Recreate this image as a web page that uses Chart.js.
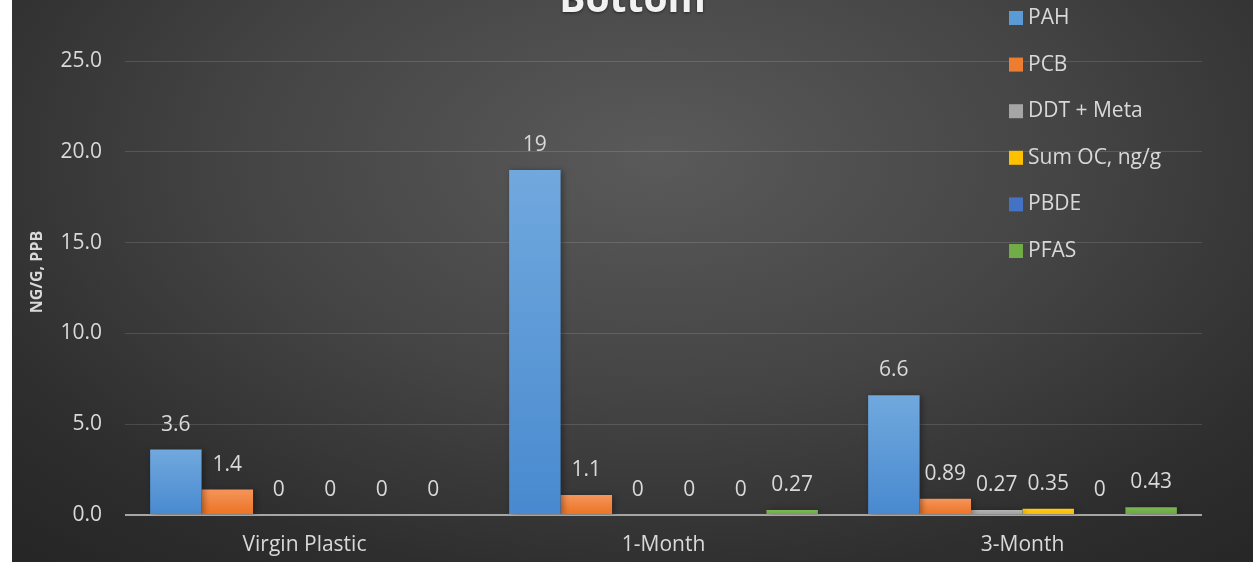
<!DOCTYPE html>
<html>
<head>
<meta charset="utf-8">
<script src="https://cdn.jsdelivr.net/npm/chart.js@4"></script>
<style>
  html, body { margin: 0; padding: 0; background: #ffffff; width: 1253px; height: 562px; overflow: hidden; }
  #wrap {
    position: absolute; left: 12px; top: 0; width: 1241px; height: 562px;
    background: radial-gradient(ellipse 75% 95% at 52% 28%, #5a5a5a 0%, #444444 45%, #2e2e2e 80%, #262626 100%);
  }
</style>
</head>
<body>
<div id="wrap"><canvas id="chart" width="1241" height="562"></canvas></div>
<script>
// chart data
const categories = ["Virgin Plastic", "1-Month", "3-Month"];
const seriesNames = ["PAH", "PCB", "DDT + Meta", "Sum OC, ng/g", "PBDE", "PFAS"];
const pah = [3.6, 19, 6.6];
const pcb = [1.4, 1.1, 0.89];
const ddtMeta = [0, 0, 0.27];
const sumOC = [0, 0, 0.35];
const pbde = [0, 0, 0];
const pfas = [0, 0.27, 0.43];
const yTicks = [0, 5, 10, 15, 20, 25];

// [top, bottom] colours of each bar gradient
const colours = [
  ["#71a9de", "#4889cf"],
  ["#f5955a", "#ec7222"],
  ["#b3b3b3", "#9c9c9c"],
  ["#ffca1a", "#f9bb00"],
  ["#5080d0", "#3e69b8"],
  ["#7cb854", "#68a640"],
];
const legendColours = ["#5b9bd5", "#ed7d31", "#a5a5a5", "#ffc000", "#4472c4", "#70ad47"];

const txt = "#d9d9d9";
const fs = 21;
Chart.defaults.font.family = "'Open Sans', sans-serif";

function barFill(i) {
  return (ctx) => {
    const chart = ctx.chart;
    const y = chart.scales.y;
    if (!y || typeof ctx.raw !== "number") return colours[i][0];
    const top = y.getPixelForValue(ctx.raw);
    const bot = y.getPixelForValue(0);
    if (!isFinite(top) || !isFinite(bot) || bot - top < 1) return colours[i][0];
    const g = chart.ctx.createLinearGradient(0, top, 0, bot);
    g.addColorStop(0, colours[i][0]);
    g.addColorStop(1, colours[i][1]);
    return g;
  };
}

const allSeries = [pah, pcb, ddtMeta, sumOC, pbde, pfas];

const extras = {
  id: "extras",
  beforeDatasetsDraw(chart) {
    const c = chart.ctx;
    c.save();
    c.shadowColor = "rgba(0,0,0,0.35)";
    c.shadowBlur = 6;
    c.shadowOffsetX = 2;
    c.shadowOffsetY = 1;
  },
  afterDatasetsDraw(chart) {
    const c = chart.ctx;
    c.restore();
    c.save();
    // value labels
    c.font = fs + "px 'Open Sans', sans-serif";
    c.fillStyle = txt;
    c.textAlign = "center";
    c.textBaseline = "middle";
    chart.data.datasets.forEach((ds, i) => {
      const meta = chart.getDatasetMeta(i);
      meta.data.forEach((bar, j) => {
        c.fillText(String(ds.data[j]), bar.x, bar.y - 25);
      });
    });
    c.restore();
  },
  afterDraw(chart) {
    const c = chart.ctx;
    const area = chart.chartArea;
    c.save();
    // title, cut at the top like the original
    c.font = "bold 39px 'Open Sans', sans-serif";
    c.textAlign = "center";
    c.textBaseline = "alphabetic";
    c.shadowColor = "rgba(0,0,0,0.5)";
    c.shadowBlur = 3;
    c.shadowOffsetY = 1;
    c.fillStyle = "#f2f2f2";
    c.fillText("Bottom", chart.width / 2, 12);
    c.shadowColor = "transparent";

    // y axis title
    c.save();
    c.translate(25, 272);
    c.rotate(-Math.PI / 2);
    c.font = "bold 16px 'Open Sans', sans-serif";
    c.fillStyle = txt;
    c.textAlign = "center";
    c.textBaseline = "middle";
    c.fillText("NG/G, PPB", 0, 0);
    c.restore();

    // legend
    c.font = fs + "px 'Open Sans', sans-serif";
    c.textAlign = "left";
    c.textBaseline = "middle";
    const lx = area.right - 193;
    chart.data.datasets.forEach((ds, i) => {
      const ly = 18 + i * 46.6;
      c.fillStyle = legendColours[i];
      c.fillRect(lx, ly - 7, 14, 14);
      c.fillStyle = txt;
      c.fillText(ds.label, lx + 19, ly);
    });
    c.restore();
  }
};

new Chart(document.getElementById("chart"), {
  type: "bar",
  data: {
    labels: categories,
    datasets: allSeries.map((d, i) => ({
      label: seriesNames[i],
      data: d,
      backgroundColor: barFill(i),
      borderWidth: 0,
      categoryPercentage: 0.86,
      barPercentage: 1.0,
    })),
  },
  options: {
    responsive: false,
    animation: false,
    layout: { padding: { top: 61, right: 51, left: 0, bottom: 0 } },
    plugins: {
      legend: { display: false },
      title: { display: false },
      tooltip: { enabled: false },
    },
    scales: {
      x: {
        grid: { display: false, drawTicks: false },
        border: { display: false },
        ticks: { color: txt, font: { size: fs }, padding: 17 },
        afterFit: (s) => { s.height = 47; },
      },
      y: {
        min: 0,
        max: 25,
        afterBuildTicks: (s) => { s.ticks = yTicks.map((v) => ({ value: v })); },
        grid: {
          drawTicks: false,
          color: (ctx) => (ctx.tick && ctx.tick.value === 0 ? "#a6a6a6" : "rgba(255,255,255,0.13)"),
          lineWidth: (ctx) => (ctx.tick && ctx.tick.value === 0 ? 2 : 1),
        },
        border: { display: false },
        ticks: {
          color: txt,
          font: { size: fs },
          padding: 23,
          callback: (v) => Number(v).toFixed(1),
        },
        afterFit: (s) => { s.width = 113; },
      },
    },
  },
  plugins: [extras],
});
</script>
</body>
</html>
